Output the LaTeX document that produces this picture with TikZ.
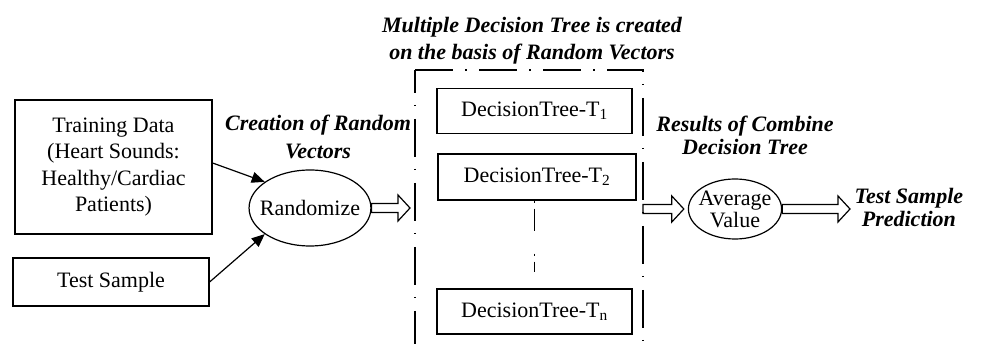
\documentclass[tikz,border=0pt]{standalone}
\usepackage{fontspec}
\setmainfont{Liberation Serif}
\usetikzlibrary{shapes.geometric,arrows.meta,calc}

% hollow block arrow between two points, drawn at the height of the first
\newcommand{\blockarrow}[2]{%
  \draw let \p1=(#1), \p2=(#2) in
    (\x1,\y1+4.5pt) -- (\x2-12pt,\y1+4.5pt) -- (\x2-12pt,\y1+13pt) -- (\x2,\y1)
    -- (\x2-12pt,\y1-13pt) -- (\x2-12pt,\y1-4.5pt) -- (\x1,\y1-4.5pt) -- cycle;}

\begin{document}
\begin{tikzpicture}[x=1pt, y=-1pt, line width=1.2pt, font=\fontsize{22}{26.5}\selectfont]
        \tikzstyle{box} = [draw, rectangle, align=center, inner sep=0pt]
        \tikzstyle{oval} = [draw, ellipse, align=center, inner ysep=0pt]
        \tikzstyle{caption} = [align=center, inner sep=2pt]
        \tikzstyle{dashdot} = [dash pattern=on 38pt off 12pt on 1.5pt off 12.5pt]
        \useasboundingbox (0,0) rectangle (983,344);

        % inputs
        \node[box, minimum width=197, minimum height=134] (train) at (113.5,167)
                {Training Data\\(Heart Sounds:\\Healthy/Cardiac\\Patients)};
        \node[box, minimum width=196, minimum height=48] (test) at (111,282) {Test Sample};
        \node[oval, inner xsep=-7pt, minimum height=76] (rand) at (310,208) {Randomize};

        % forest of trees
        \node[box, minimum width=195, minimum height=45] (dt1) at (534.5,111) {DecisionTree-T\textsubscript{1}};
        \node[box, minimum width=198, minimum height=46] (dt2) at (537,177) {DecisionTree-T\textsubscript{2}};
        \node[box, minimum width=195, minimum height=45] (dtn) at (534.5,311.5) {DecisionTree-T\textsubscript{n}};
        \draw[dashdot] (415,70) -- (643,70) -- (643,344);
        \draw[dashdot, dash phase=15pt] (415,70) -- (415,344);
        \draw[dash pattern=on 2pt off 6pt on 22pt off 23pt] (dt2.south -| dtn.north) -- ([yshift=16pt]dtn.north);

        % output
        \node[oval, inner xsep=-3.5pt, inner ysep=-3pt, minimum height=60, font=\fontsize{22}{22}\selectfont] (avg) at (735,209) {Average\\Value};
        \node[caption, font=\fontsize{22}{23}\selectfont\bfseries\itshape, anchor=west] (pred) at (852,207)
                {Test Sample\\Prediction};

        % captions
        \node[caption, font=\fontsize{22}{27}\selectfont\bfseries\itshape] (title) at (532,41)
                {Multiple Decision Tree is created\\on the basis of Random Vectors};
        \node[caption, font=\fontsize{22}{28}\selectfont\bfseries\itshape] (create) at (318,137)
                {Creation of Random\\Vectors};
        \node[caption, font=\fontsize{22}{23}\selectfont\bfseries\itshape] (result) at (745,135)
                {Results of Combine\\Decision Tree};

        \coordinate (inl) at (410,207);
        \coordinate (outr) at (643,209);

        \draw[-{Triangle[length=13pt, width=11pt]}] (train.east |- 0,163) -- (rand.150);
        \draw[-{Triangle[length=13pt, width=11pt]}] (test.east) -- (rand.210);
        \blockarrow{rand.east}{inl}
        \blockarrow{outr}{[xshift=-4pt]avg.west}
        \blockarrow{avg.east}{[xshift=-2pt]pred.west}
\end{tikzpicture}
\end{document}
